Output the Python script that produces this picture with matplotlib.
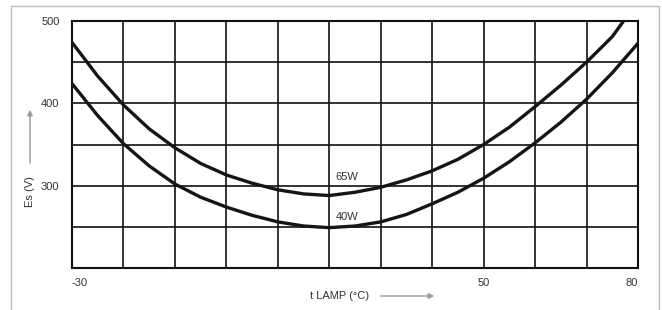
import matplotlib
matplotlib.use("Agg")
import matplotlib.pyplot as plt
from matplotlib.patches import FancyArrowPatch
from matplotlib.lines import Line2D

plt.rcParams['font.family'] = ['Liberation Sans', 'DejaVu Sans']

# lamp temperature (degC) and starting voltage (V)
t_65w = [-30, -25, -20, -15, -10, -5, 0, 5, 10, 15, 20, 25, 30, 35, 40, 45,
         50, 55, 60, 65, 70, 75, 77.2]
es_65w = [474, 433, 398, 369, 346, 327, 313, 303, 295, 290, 288, 292, 298,
          307, 318, 332, 350, 371, 396, 422, 450, 481, 500]

t_40w = [-30, -25, -20, -15, -10, -5, 0, 5, 10, 15, 20, 25, 30, 35, 40, 45,
         50, 55, 60, 65, 70, 75, 80]
es_40w = [424, 385, 351, 324, 302, 286, 274, 264, 256, 251, 249, 251, 256,
          265, 278, 292, 309, 329, 352, 377, 405, 437, 473]

x_grid = list(range(-30, 81, 10))
y_grid = list(range(200, 501, 50))
x_labels = {-30: "-30", 50: "50", 80: "80"}
y_labels = {300: "300", 400: "400", 500: "500"}

W, H = 662, 310
fig = plt.figure(figsize=(W / 100, H / 100), dpi=100)
ax = fig.add_axes([72 / W, 1 - 268 / H, (638 - 72) / W, (268 - 21) / H])
ax.set_xlim(-30, 80)
ax.set_ylim(200, 500)

for x in x_grid:
    ax.axvline(x, color="#111111", lw=1.2, zorder=1)
for y in y_grid:
    ax.axhline(y, color="#111111", lw=1.2, zorder=1)
for s in ax.spines.values():
    s.set_linewidth(1.5)
    s.set_color("#111111")

ax.plot(t_65w, es_65w, color="#151515", lw=2.4, solid_joinstyle="round",
        clip_on=True, zorder=3)
ax.plot(t_40w, es_40w, color="#151515", lw=2.4, solid_joinstyle="round",
        clip_on=True, zorder=3)
ax.text(21.2, 311, "65W", fontsize=8, color="#333333", va="center", ha="left")
ax.text(21.2, 262, "40W", fontsize=8, color="#333333", va="center", ha="left")

ax.set_xticks(list(x_labels.keys()))
ax.set_xticklabels(list(x_labels.values()))
ax.set_yticks(list(y_labels.keys()))
ax.set_yticklabels(list(y_labels.values()))
ax.tick_params(length=0, labelsize=8, labelcolor="#333333")
ax.tick_params(axis="x", pad=7)
ax.tick_params(axis="y", pad=9)
xt = ax.get_xticklabels()
xt[0].set_ha("left")
xt[-1].set_ha("right")

# axis titles with grey arrows
fig.text(310 / W, 1 - 296 / H, "t LAMP (°C)", fontsize=8, color="#333333",
         ha="left", va="center")
fig.patches.append(FancyArrowPatch((378 / W, 1 - 296 / H), (437 / W, 1 - 296 / H),
                                   transform=fig.transFigure, arrowstyle="-|>",
                                   mutation_scale=8, color="#999999", lw=1))
fig.text(30 / W, 1 - 192 / H, "Es (V)", fontsize=8, color="#333333",
         ha="center", va="center", rotation=90)
fig.patches.append(FancyArrowPatch((30 / W, 1 - 166 / H), (30 / W, 1 - 107 / H),
                                   transform=fig.transFigure, arrowstyle="-|>",
                                   mutation_scale=8, color="#999999", lw=1))

# light grey frame around the figure (bottom edge is cut off)
frame_x = [11 / W, 11 / W, 659 / W, 659 / W]
frame_y = [0, 1 - 5.5 / H, 1 - 5.5 / H, 0]
fig.lines.append(Line2D(frame_x, frame_y, transform=fig.transFigure,
                        color="#bbbbbb", lw=1))

fig.savefig("out.png", dpi=100)
